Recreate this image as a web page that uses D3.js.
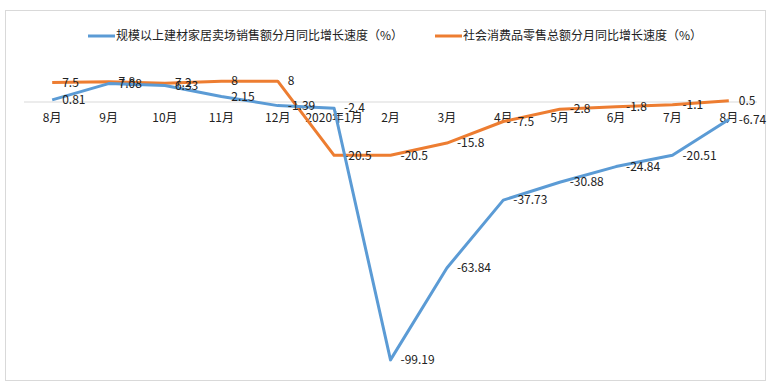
<!DOCTYPE html>
<html lang="zh">
<head>
<meta charset="utf-8">
<title>建材家居卖场销售额与社会消费品零售总额同比增速</title>
<script src="https://cdn.jsdelivr.net/npm/d3@7"></script>
<style>
  body { margin: 0; background: #fff; }
  svg text { font-family: "Noto Sans CJK SC", "Noto Sans", sans-serif; fill: #222; }
</style>
</head>
<body>
<div id="chart"></div>
<script>
// categories and the two series
var months = ["8月", "9月", "10月", "11月", "12月", "2020年1月", "2月", "3月", "4月", "5月", "6月", "7月", "8月"];
var homeSales = [0.81, 7.08, 6.33, 2.15, -1.39, -2.4, -99.19, -63.84, -37.73, -30.88, -24.84, -20.51, -6.74];
var retailSales = [7.5, 7.8, 7.2, 8, 8, -20.5, -20.5, -15.8, -7.5, -2.8, -1.8, -1.1, 0.5];
var seriesNames = ["规模以上建材家居卖场销售额分月同比增长速度（%）", "社会消费品零售总额分月同比增长速度（%）"];
var colors = ["#5b9bd5", "#ed7d31"];

var w = 776, h = 389;

var svg = d3.select("#chart").append("svg")
    .attr("width", w)
    .attr("height", h);

// frame
svg.append("rect")
    .attr("x", 5.5).attr("y", 10.5)
    .attr("width", 760).attr("height", 370)
    .attr("fill", "none")
    .attr("stroke", "#d9d9d9");

// x: one point per month (index keeps the two 8月 apart)
var x = d3.scalePoint()
    .domain(d3.range(months.length))
    .range([24, 757])
    .padding(0.5);

var y = d3.scaleLinear()
    .domain([-100, 10])
    .range([362, 76]);

// zero line
svg.append("line")
    .attr("x1", 24).attr("x2", 757)
    .attr("y1", y(0)).attr("y2", y(0))
    .attr("stroke", "#d9d9d9")
    .attr("stroke-width", 1);

// month labels just under the zero line
svg.append("g").selectAll("text")
    .data(months)
    .enter().append("text")
    .attr("x", function(d, i) { return x(i); })
    .attr("y", y(0) + 16)
    .attr("dy", "0.35em")
    .attr("text-anchor", "middle")
    .attr("font-size", 12)
    .text(function(d) { return d; });

var line = d3.line()
    .x(function(d, i) { return x(i); })
    .y(function(d) { return y(d); });

function drawSeries(values, color) {
  svg.append("path")
      .datum(values)
      .attr("d", line)
      .attr("fill", "none")
      .attr("stroke", color)
      .attr("stroke-width", 3)
      .attr("stroke-linejoin", "round");

  svg.append("g").selectAll("text")
      .data(values)
      .enter().append("text")
      .attr("x", function(d, i) { return x(i) + 10; })
      .attr("y", function(d) { return y(d); })
      .attr("dy", "0.35em")
      .attr("font-size", 12)
      .text(function(d) { return d; });
}

drawSeries(retailSales, colors[1]);
drawSeries(homeSales, colors[0]);

// legend
var legendX = [88, 435];
seriesNames.forEach(function(name, i) {
  var g = svg.append("g").attr("transform", "translate(" + legendX[i] + ",36)");
  g.append("line")
      .attr("x1", 0).attr("x2", 27)
      .attr("stroke", colors[i])
      .attr("stroke-width", 3);
  g.append("text")
      .attr("x", 28)
      .attr("dy", "0.35em")
      .attr("font-size", 12)
      .text(name);
});
</script>
</body>
</html>
